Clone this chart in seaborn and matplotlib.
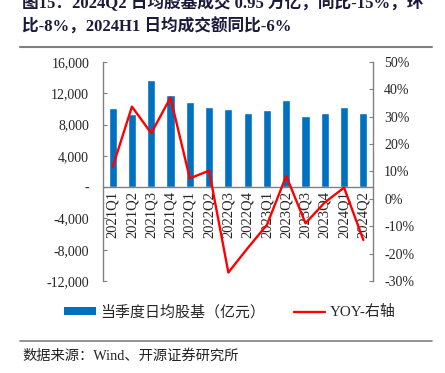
import matplotlib
matplotlib.use("Agg")
import matplotlib.pyplot as plt
from matplotlib.lines import Line2D
from matplotlib.patches import Patch
from matplotlib.ticker import FuncFormatter, FixedLocator
import seaborn as sns
import pandas as pd

quarters = ["2021Q1", "2021Q2", "2021Q3", "2021Q4",
            "2022Q1", "2022Q2", "2022Q3", "2022Q4",
            "2023Q1", "2023Q2", "2023Q3", "2023Q4",
            "2024Q1", "2024Q2"]
turnover = [10100, 9400, 13700, 11800, 10900, 10300, 10000, 9500,
            9900, 11200, 9100, 9500, 10300, 9500]
yoy = [0.116, 0.337, 0.240, 0.370, 0.075, 0.103, -0.269, -0.180,
       -0.095, 0.084, -0.089, -0.013, 0.041, -0.15]

BLUE = "#0070C0"
RED = "#FF0000"
GRAY = "#808080"
FONT = ["Liberation Serif", "Noto Sans CJK SC", "DejaVu Sans"]

sns.set_style("white")
plt.rcParams["font.family"] = FONT
plt.rcParams["font.size"] = 10

df = pd.DataFrame({"quarter": quarters, "turnover": turnover, "yoy": yoy})

fig = plt.figure(figsize=(4.45, 3.73), dpi=100)
ax = fig.add_axes([103 / 445, 1 - 281 / 373, 270 / 445, 219 / 373])

sns.barplot(data=df, x="quarter", y="turnover", color=BLUE, width=0.42,
            saturation=1, ax=ax)
ax.set_xlim(-0.5, len(quarters) - 0.5)
ax.set_ylim(-12000, 16000)
ax.set_yticks(range(-12000, 16001, 4000))
ax.yaxis.set_major_formatter(FuncFormatter(lambda v, p: "-" if v == 0 else f"{v:,.0f}"))
ax.set_xlabel("")
ax.set_ylabel("")

ax2 = ax.twinx()
sns.lineplot(data=df, x="quarter", y="yoy", color=RED, linewidth=1.7,
             sort=False, ax=ax2)
ax2.set_ylim(-0.3, 0.5)
ax2.set_yticks([i / 10 for i in range(-3, 6)])
ax2.yaxis.set_major_formatter(FuncFormatter(lambda v, p: f"{v * 100:.0f}%"))
ax2.set_ylabel("")
ax2.set_xlabel("")

# axes styling
ax.spines["top"].set_visible(False)
ax.spines["right"].set_visible(False)
ax.spines["bottom"].set_position(("data", 0))
for s in ["left", "bottom"]:
    ax.spines[s].set_color(GRAY)
    ax.spines[s].set_linewidth(1.0)
for s in ["top", "left", "bottom"]:
    ax2.spines[s].set_visible(False)
ax2.spines["right"].set_color(GRAY)
ax2.spines["right"].set_linewidth(1.0)

ax.tick_params(axis="y", direction="in", length=3, color=GRAY, labelsize=10, pad=10)
ax2.tick_params(axis="y", direction="in", length=3, color=GRAY, labelsize=10, pad=8)
ax.tick_params(axis="x", which="major", length=0, labelsize=10.5, rotation=90, pad=3)
ax.xaxis.set_minor_locator(FixedLocator([i + 0.5 for i in range(len(quarters) - 1)]))
ax.tick_params(axis="x", which="minor", direction="in", length=3, color=GRAY)

# legend
handles = [Patch(facecolor=BLUE, edgecolor="none"),
           Line2D([], [], color=RED, linewidth=1.7)]
fig.legend(handles, ["当季度日均股基（亿元）", "YOY-右轴"], loc="center",
           bbox_to_anchor=(0.517, 1 - 312 / 373), ncol=2, frameon=False,
           fontsize=10.8, handlelength=2.1, handleheight=0.4, handletextpad=0.3,
           columnspacing=1.9)

# title and separators
title_color = "#1a1a3a"
fig.text(22 / 445, 1 - 3 / 373, "图15：2024Q2 日均股基成交 0.95 万亿，同比-15%，环",
         fontsize=12, fontweight="bold", color=title_color, va="center", ha="left")
fig.text(22 / 445, 1 - 27 / 373, "比-8%，2024H1 日均成交额同比-6%",
         fontsize=12, fontweight="bold", color=title_color, va="center", ha="left")
fig.add_artist(Line2D([20 / 445, 432 / 445], [1 - 47 / 373] * 2, color=GRAY, linewidth=1.5))
fig.add_artist(Line2D([20 / 445, 432 / 445], [1 - 341 / 373] * 2, color=GRAY, linewidth=1.2))
fig.text(22 / 445, 1 - 356 / 373, "数据来源：Wind、开源证券研究所",
         fontsize=10.3, color="#222222", va="center", ha="left")

fig.savefig("out.png", dpi=100)
